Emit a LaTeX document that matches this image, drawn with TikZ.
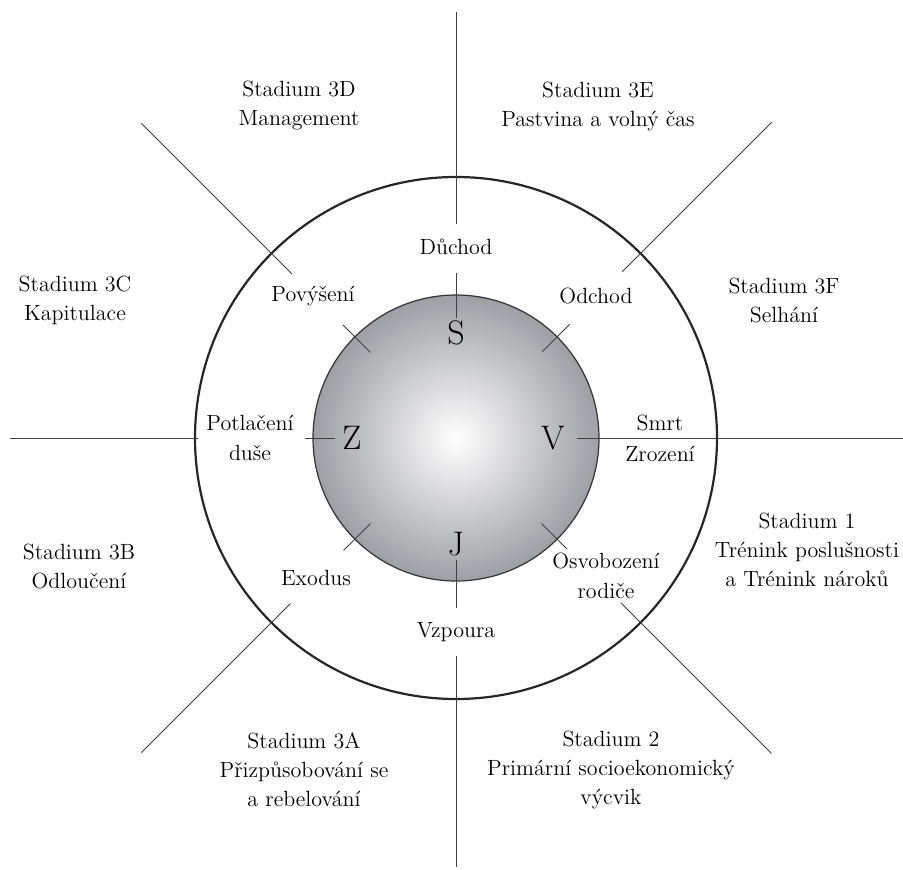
\documentclass[tikz,border=0pt]{standalone}
\usepackage{tikz}
\usetikzlibrary{positioning}
\definecolor{spheregray}{RGB}{158,159,164}

\begin{document}
\begin{tikzpicture}[x=0.5pt, y=0.5pt,
stage/.style={align=center, font=\fontsize{11}{14.5}\selectfont},
turn/.style={align=center, font=\fontsize{11}{15}\selectfont},
letter/.style={font=\fontsize{17}{20}\selectfont, inner sep=0pt},
spoke/.style={black!75, line width=0.5pt}]

\useasboundingbox (-456,-431) rectangle (447,438);

\shade[inner color=white, outer color=spheregray] (0,0) circle (143);
\draw[black!80, line width=0.6pt] (0,0) circle (143);
\draw[black!85, line width=1.1pt] (0,0) circle (261);

\coordinate (n1)    at (90:426);
\coordinate (n1bis) at (90:214);
\coordinate (n2)    at (90:165);
\coordinate (n2bis) at (90:120);
\coordinate (s1)    at (270:429);
\coordinate (s1bis) at (270:218);
\coordinate (s2)    at (270:170);
\coordinate (s2bis) at (270:122);
\coordinate (w1)    at (180:446);
\coordinate (w1bis) at (180:258);
\coordinate (w2)    at (180:151);
\coordinate (w2bis) at (180:121);
\coordinate (e1)    at (0:447);
\coordinate (e1bis) at (0:121);
\coordinate (nw1)    at (135:445);
\coordinate (nw1bis) at (135:232);
\coordinate (nw2)    at (135:160);
\coordinate (nw2bis) at (135:121);
\coordinate (ne1)    at (45:447);
\coordinate (ne1bis) at (45:235);
\coordinate (ne2)    at (45:161);
\coordinate (ne2bis) at (45:122);
\coordinate (se1)    at (-45:446);
\coordinate (se1bis) at (-45:233);
\coordinate (se2)    at (-45:157);
\coordinate (se2bis) at (-45:121);
\coordinate (sw1)    at (-135:445);
\coordinate (sw1bis) at (-135:234);
\coordinate (sw2)    at (-135:159);
\coordinate (sw2bis) at (-135:121);

\node[letter] (S) at (0,105)    {S};
\node[letter] (Z) at (-104,0)   {Z};
\node[letter] (V) at (97,0)     {V};
\node[letter] (J) at (0,-106)   {J};

\node[turn] (duchod)  at (0,191)      {Důchod};
\node[turn] (povyseni) at (-143,142)  {Povýšení};
\node[turn] (odchod)  at (140,142)    {Odchod};
\node[turn] (potlaceni) at (-206,0)   {Potlačení\\duše};
\node[turn] (smrt)    at (204,15)     {Smrt};
\node[turn] (zrozeni) at (204,-16)    {Zrození};
\node[turn] (exodus)  at (-140,-140)  {Exodus};
\node[turn] (osvobozeni) at (150,-138) {Osvobození\\rodiče};
\node[turn] (vzpoura) at (0,-194)     {Vzpoura};

\node[stage] (st3d) at (-157,332)  {Stadium 3D\\Management};
\node[stage] (st3e) at (142,332)   {Stadium 3E\\Pastvina a volný čas};
\node[stage] (st3c) at (-381,138)  {Stadium 3C\\Kapitulace};
\node[stage] (st3f) at (328,138)   {Stadium 3F\\Selhání};
\node[stage] (st3b) at (-377,-128) {Stadium 3B\\Odloučení};
\node[stage] (st1)  at (351,-112)  {Stadium 1\\Trénink poslušnosti\\a Trénink nároků};
\node[stage] (st3a) at (-152,-332) {Stadium 3A\\Přizpůsobování se\\a rebelování};
\node[stage] (st2)  at (155,-332)  {Stadium 2\\Primární socioekonomický\\výcvik};

\draw[spoke] (n1) -- (n1bis);
\draw[spoke] (n2) -- (n2bis);
\draw[spoke] (s1) -- (s1bis);
\draw[spoke] (s2) -- (s2bis);
\draw[spoke] (w1) -- (w1bis);
\draw[spoke] (w2) -- (w2bis);
\draw[spoke] (e1) -- (e1bis);
\draw[spoke] (nw1) -- (nw1bis);
\draw[spoke] (nw2) -- (nw2bis);
\draw[spoke] (ne1) -- (ne1bis);
\draw[spoke] (ne2) -- (ne2bis);
\draw[spoke] (se1) -- (se1bis);
\draw[spoke] (se2) -- (se2bis);
\draw[spoke] (sw1) -- (sw1bis);
\draw[spoke] (sw2) -- (sw2bis);

\end{tikzpicture}
\end{document}
